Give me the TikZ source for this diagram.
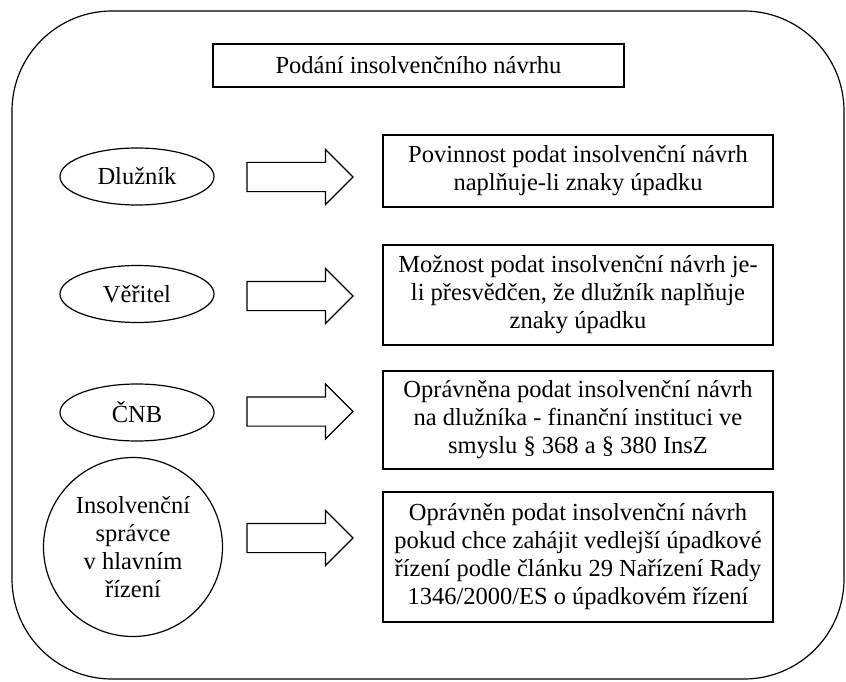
\documentclass[tikz,border=0pt]{standalone}
\usepackage{fontspec}
\setmainfont{Liberation Serif}
\usetikzlibrary{shapes.geometric,shapes.arrows}
\begin{document}
\begin{tikzpicture}[x=1pt,y=-1pt,
  line width=1.2pt,
  txt/.style={font=\fontsize{24.5}{28}\selectfont, align=center, inner sep=0pt},
  titlebox/.style={draw, txt, minimum width=411, minimum height=43},
  actor/.style={draw, ellipse, txt, minimum width=154, minimum height=57},
  actorc/.style={draw, circle, txt, minimum size=179},
  infobox/.style={draw, txt, minimum width=390},
  blockarrow/.style={draw, single arrow, single arrow tip angle=90,
     single arrow head extend=13pt, inner xsep=0pt, inner ysep=14pt,
     minimum height=106, outer sep=0pt, anchor=tail}
]
\useasboundingbox (0,0) rectangle (846,682);
\node[draw, rounded corners=100pt, minimum width=832, minimum height=668, inner sep=0pt] (frame) at (428,345) {};
\node[titlebox] (title) at (418.5,65.5) {Podání insolvenčního návrhu};

\node[actor] (e1) at (137,176.5) {Dlužník};
\node[actor] (e2) at (137,294) {Věřitel};
\node[actor] (e3) at (137,412.5) {ČNB};
\node[actorc] (e4) at (133,547) {Insolvenční\\správce\\v hlavním\\řízení};

\node[infobox, minimum height=72] (b1) at (578,171) {Povinnost podat insolvenční návrh\\naplňuje-li znaky úpadku};
\node[infobox, minimum height=100] (b2) at (578,295) {Možnost podat insolvenční návrh je-\\li přesvědčen, že dlužník naplňuje\\znaky úpadku};
\node[infobox, minimum height=98] (b3) at (578,420) {Oprávněna podat insolvenční návrh\\na dlužníka - finanční instituci ve\\smyslu § 368 a § 380 InsZ};
\node[infobox, minimum height=130] (b4) at (578,557) {Oprávněn podat insolvenční návrh\\pokud chce zahájit vedlejší úpadkové\\řízení podle článku 29 Nařízení Rady\\1346/2000/ES o úpadkovém řízení};

\node[blockarrow] (a1) at (247,177) {};
\node[blockarrow] (a2) at (247,296) {};
\node[blockarrow] (a3) at (247,411.5) {};
\node[blockarrow] (a4) at (247,538) {};
\end{tikzpicture}
\end{document}
